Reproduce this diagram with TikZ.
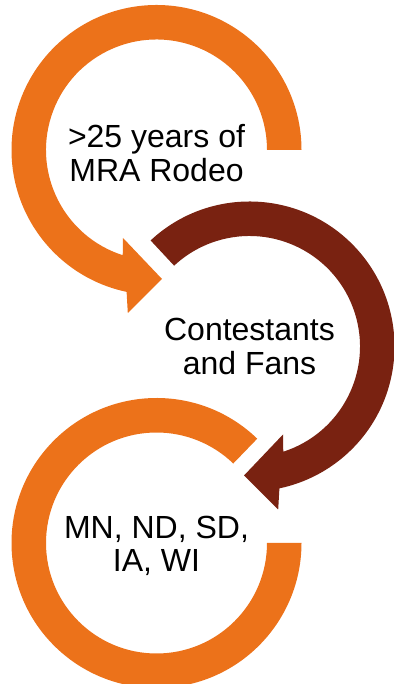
\documentclass[tikz,border=0pt]{standalone}
\usepackage{fontspec}
\setmainfont{Liberation Sans}
\definecolor{rodeoorange}{RGB}{236,114,26}
\definecolor{rodeobrown}{RGB}{121,34,17}
\begin{document}
\begin{tikzpicture}[x=1pt, y=1pt,
    ringtext/.style={align=center, inner sep=0pt, font=\fontsize{32}{33.5}\selectfont}]
  \useasboundingbox (0,0) rectangle (393,684);

  % Centres of the three rings
  \coordinate (c1) at (156.5,534);
  \coordinate (c2) at (249.5,337.5);
  \coordinate (c3) at (156.5,141);

  % Top ring, turning left and ending in an arrowhead
  \begin{scope}[shift={(c1)}]
    \fill[rodeoorange] (0:145) arc[start angle=0, end angle=258.1, radius=145]
      -- (-28.7,-163) -- (5.5,-129) -- (-33.5,-88) -- (252.2:110.5)
      arc[start angle=252.2, end angle=0, radius=110.5] -- cycle;
  \end{scope}

  % Middle ring, mirrored, turning right
  \begin{scope}[shift={(c2)}, xscale=-1]
    \fill[rodeobrown] (47:145) arc[start angle=47, end angle=258.1, radius=145]
      -- (-28.7,-163) -- (5.5,-129) -- (-33.5,-88) -- (252.2:110.5)
      arc[start angle=252.2, end angle=47, radius=110.5] -- cycle;
  \end{scope}

  % Bottom ring, no arrowhead
  \begin{scope}[shift={(c3)}]
    \fill[rodeoorange] (46:145) arc[start angle=46, end angle=360, radius=145]
      -- (0:110.5) arc[start angle=360, end angle=46, radius=110.5] -- cycle;
  \end{scope}

  % Labels
  \node[ringtext, yshift=-3pt] (rodeo) at (c1) {>25 years of\\MRA Rodeo};
  \node[ringtext] (fans) at (c2) {Contestants\\and Fans};
  \node[ringtext, yshift=-3pt] (states) at (c3) {MN, ND, SD,\\IA, WI};
\end{tikzpicture}
\end{document}
